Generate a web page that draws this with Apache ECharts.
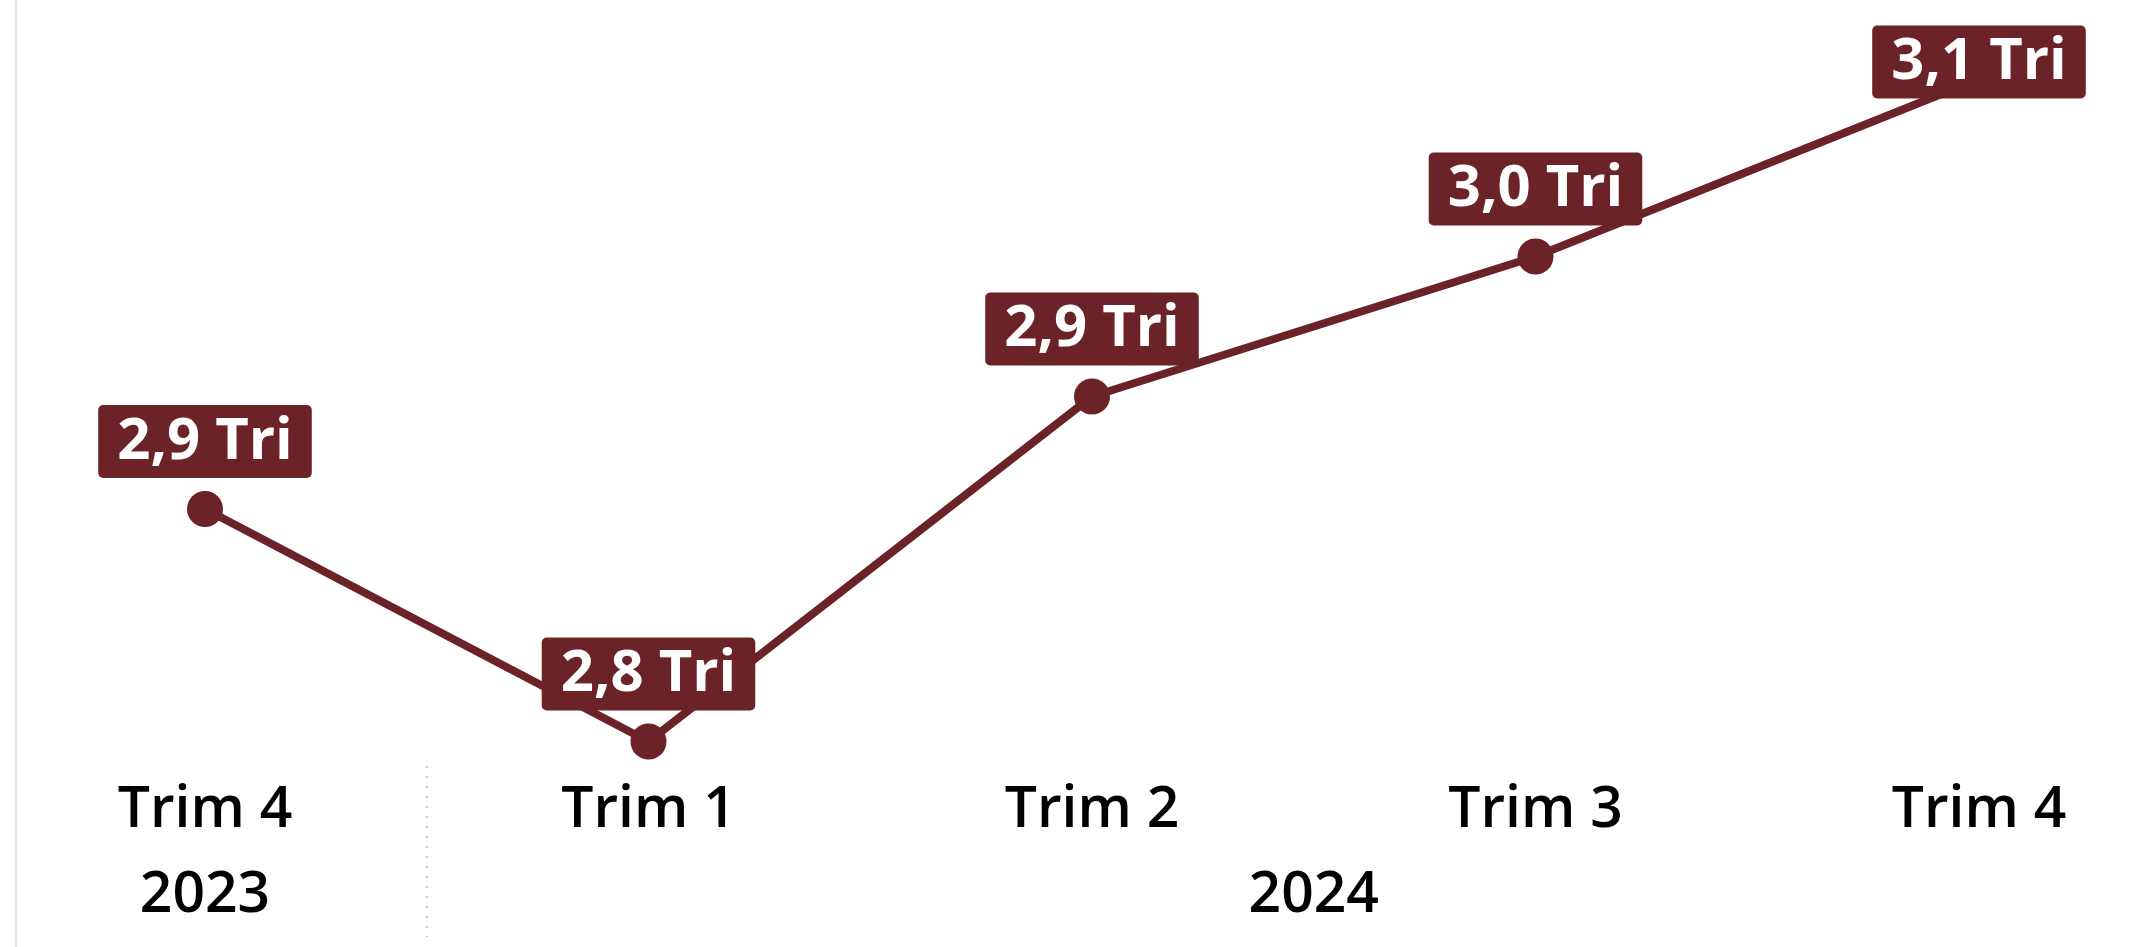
<!DOCTYPE html>
<html>
<head>
<meta charset="utf-8">
<script src="https://cdn.jsdelivr.net/npm/echarts@6/dist/echarts.min.js"></script>
<style>
  html, body { margin: 0; padding: 0; background: #ffffff; }
  #chart { position: absolute; left: 0; top: 0; width: 2147px; height: 947px; }
  #frame { position: absolute; left: 15px; top: 0; width: 2px; height: 947px; background: #e6e6e6; }
</style>
</head>
<body>
<div id="frame"></div>
<div id="chart"></div>
<script>
// Quarterly totals, in trillions
const quarters = ['Trim 4', 'Trim 1', 'Trim 2', 'Trim 3', 'Trim 4'];
const years = ['2023', '2024', '2024', '2024', '2024'];
const values = [2.890, 2.797, 2.935, 2.991, 3.062];
const unitSuffix = ' Tri';

const LINE_COLOR = '#6B2328';
const FONT = '"Open Sans", "Noto Sans", sans-serif';

// Unique category keys (year + quarter) so repeated quarter names stay distinct
const categories = quarters.map((q, i) => years[i] + '|' + q);

// Year groups: centre index of each year and the boundaries between years
const yearGroups = [];
years.forEach((y, i) => {
  const last = yearGroups[yearGroups.length - 1];
  if (last && last.year === y) last.end = i;
  else yearGroups.push({ year: y, start: i, end: i });
});
const yearCentres = yearGroups.map(g => (g.start + g.end) / 2);
const yearBounds = yearGroups.slice(1).map(g => g.start - 0.5);

const fmt = v => v.toFixed(1).replace('.', ',') + unitSuffix;

const labelStyle = {
  show: true,
  position: 'top',
  distance: 13,
  formatter: p => fmt(p.value),
  color: '#ffffff',
  fontFamily: FONT,
  fontWeight: 'bold',
  fontSize: 58,
  lineHeight: 58,
  backgroundColor: LINE_COLOR,
  borderRadius: 5,
  padding: [8, 19, 7, 19]
};

const seriesData = values.map((v, i) => {
  if (i === values.length - 1) {
    // the last label would leave the top edge, so it sits over its point
    return { value: v, label: { position: 'inside', offset: [0, -17] } };
  }
  return v;
});

const chart = echarts.init(document.getElementById('chart'), null, { renderer: 'canvas' });
chart.setOption({
  animation: false,
  grid: { left: 205, right: 168, top: 9, bottom: 188 },
  xAxis: [
    {
      type: 'category',
      data: categories,
      boundaryGap: false,
      axisLine: { show: false },
      axisTick: { show: false },
      splitLine: { show: false },
      axisLabel: {
        interval: 0,
        margin: 23,
        color: '#000000',
        fontFamily: FONT,
        fontWeight: 600,
        fontSize: 57,
        formatter: v => v.split('|')[1]
      }
    },
    {
      type: 'value',
      min: 0,
      max: quarters.length - 1,
      position: 'bottom',
      offset: 7,
      axisLine: { show: false },
      splitLine: { show: false },
      axisTick: {
        show: true,
        customValues: yearBounds,
        length: 171,
        lineStyle: { color: '#c8c8c8', width: 2, type: [2, 8] }
      },
      axisLabel: {
        customValues: yearCentres,
        margin: 101,
        color: '#000000',
        fontFamily: FONT,
        fontWeight: 600,
        fontSize: 57,
        formatter: v => {
          const idx = yearCentres.indexOf(v);
          return idx >= 0 ? yearGroups[idx].year : '';
        }
      }
    }
  ],
  yAxis: {
    type: 'value',
    min: 2.79,
    max: 3.09,
    show: false,
    splitLine: { show: false }
  },
  series: [{
    type: 'line',
    data: seriesData,
    xAxisIndex: 0,
    symbol: 'circle',
    symbolSize: 36,
    lineStyle: { color: LINE_COLOR, width: 8 },
    itemStyle: { color: LINE_COLOR },
    label: labelStyle,
    clip: false
  }]
});
</script>
</body>
</html>
